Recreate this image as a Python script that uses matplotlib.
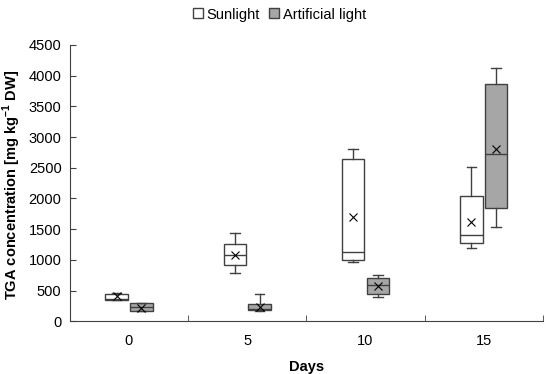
import matplotlib
matplotlib.use("Agg")
import matplotlib.pyplot as plt
from matplotlib.lines import Line2D

plt.rcParams['font.family'] = ['Liberation Sans', 'DejaVu Sans']
plt.rcParams['mathtext.fontset'] = 'custom'
plt.rcParams['mathtext.bf'] = 'Liberation Sans:bold'
plt.rcParams['mathtext.rm'] = 'Liberation Sans'

days = ["0", "5", "10", "15"]
series = ["Sunlight", "Artificial light"]
# per day: whislo, q1, median, q3, whishi, mean
sun_lo = [340, 790, 960, 1200]
sun_q1 = [350, 920, 1000, 1270]
sun_med = [370, 1080, 1120, 1400]
sun_q3 = [450, 1260, 2650, 2040]
sun_hi = [460, 1430, 2800, 2510]
sun_mean = [410, 1080, 1690, 1610]

art_lo = [160, 170, 400, 1540]
art_q1 = [170, 180, 440, 1850]
art_med = [230, 200, 590, 2720]
art_q3 = [290, 280, 700, 3860]
art_hi = [300, 440, 750, 4130]
art_mean = [220, 230, 570, 2810]

fig = plt.figure(figsize=(5.5, 3.74), dpi=100)
ax = fig.add_axes([0.127, 0.141, 0.860, 0.739])

def stats(lo, q1, med, q3, hi, mean):
    return [dict(whislo=a, q1=b, med=c, q3=d, whishi=e, mean=f, fliers=[])
            for a, b, c, d, e, f in zip(lo, q1, med, q3, hi, mean)]

edge = '#404040'
common = dict(widths=0.19, showmeans=True, patch_artist=True, showfliers=False,
              medianprops=dict(color=edge, linewidth=1),
              whiskerprops=dict(color=edge, linewidth=1),
              capprops=dict(color=edge, linewidth=1),
              meanprops=dict(marker='x', markeredgecolor='black', markersize=5.5, markeredgewidth=0.8),
              capwidths=0.08)
pos = list(range(len(days)))
b1 = ax.bxp(stats(sun_lo, sun_q1, sun_med, sun_q3, sun_hi, sun_mean),
            positions=[p - 0.105 for p in pos],
            boxprops=dict(facecolor='white', edgecolor=edge, linewidth=1), **common)
b2 = ax.bxp(stats(art_lo, art_q1, art_med, art_q3, art_hi, art_mean),
            positions=[p + 0.105 for p in pos],
            boxprops=dict(facecolor='#a6a6a6', edgecolor=edge, linewidth=1), **common)

fs = 10.5
ax.set_xlim(-0.5, len(days) - 0.5)
ax.set_ylim(0, 4500)
ax.set_yticks(range(0, 4501, 500))
ax.set_xticks(pos)
ax.set_xticklabels(days)
ax.set_xticks([p + 0.5 for p in pos], minor=True)
ax.tick_params(axis='x', which='major', length=0, labelsize=fs, pad=9)
ax.tick_params(axis='x', which='minor', direction='in', length=4, color=edge)
ax.tick_params(axis='y', direction='in', length=4, labelsize=fs, color=edge, pad=6)
for s in ['top', 'right']:
    ax.spines[s].set_visible(False)
for s in ['left', 'bottom']:
    ax.spines[s].set_color(edge)
ax.set_xlabel('Days', fontweight='bold', fontsize=fs, labelpad=9)
ax.set_ylabel('TGA concentration [mg kg$^{\\mathbf{-1}}$ DW]', fontweight='bold', fontsize=10.5)
ax.yaxis.set_label_coords(-0.10, 0.494)

handles = [Line2D([], [], marker='s', linestyle='', markerfacecolor='white', markeredgecolor=edge, markersize=7.5),
           Line2D([], [], marker='s', linestyle='', markerfacecolor='#a6a6a6', markeredgecolor=edge, markersize=7.5)]
fig.legend(handles, series, loc='upper center', bbox_to_anchor=(0.505, 1.015), ncol=2, frameon=False,
           fontsize=fs, handletextpad=0.0, columnspacing=0.4, handlelength=1.2)

fig.savefig('out.png', dpi=100)
